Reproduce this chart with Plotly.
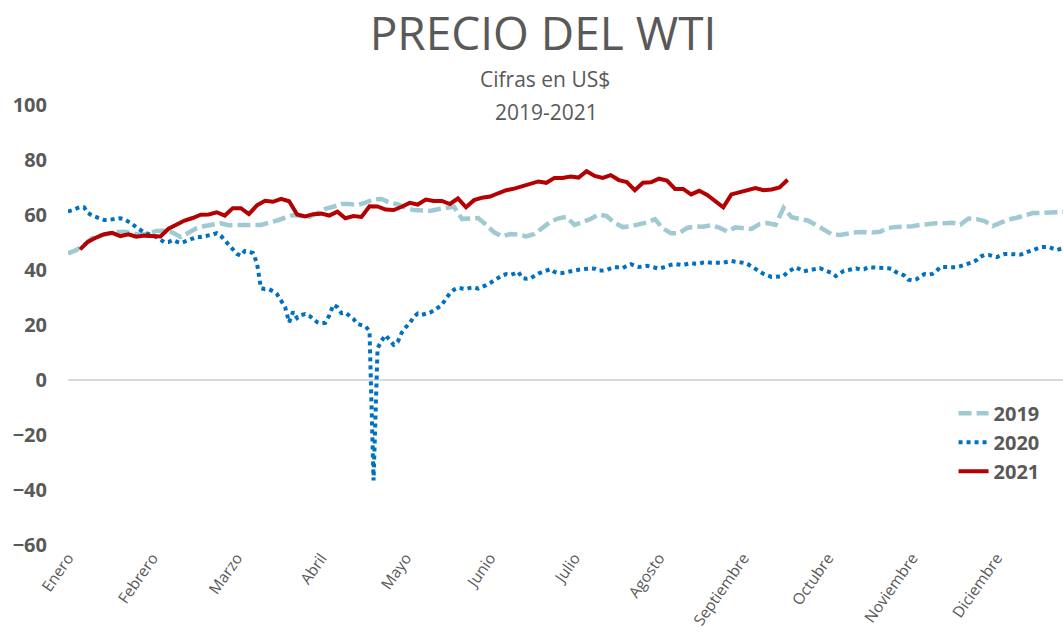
import plotly.graph_objects as go

months = ["Enero", "Febrero", "Marzo", "Abril", "Mayo", "Junio", "Julio",
          "Agosto", "Septiembre", "Octubre", "Noviembre", "Diciembre"]

# 2019: one value every 2 trading days
wti_2019 = [46.0, 47.2, 49.2, 51.5, 52.5, 53.2, 53.8, 53.9, 53.3, 52.8,
            53.2, 54.2, 54.3, 53.6, 52.0, 53.5, 55.2, 56.0, 56.6, 57.0,
            56.3, 56.2, 56.4, 56.4, 56.4, 57.0, 58.0, 59.0, 60.0, 59.6,
            59.3, 60.6, 62.2, 63.0, 64.0, 64.0, 63.6, 64.5, 65.7, 65.8,
            64.5, 63.9, 62.6, 61.8, 61.6, 61.5, 62.1, 62.6, 63.0, 58.6,
            58.7, 58.9, 56.5, 53.7, 52.2, 53.1, 52.9, 52.2, 53.1, 55.5,
            57.5, 58.8, 59.3, 56.4, 57.5, 58.6, 60.2, 59.6, 57.1, 55.6,
            55.9, 56.4, 57.3, 58.5, 55.1, 53.4, 53.4, 55.3, 55.8, 55.7,
            56.3, 55.4, 54.0, 55.5, 55.2, 54.9, 56.7, 57.1, 56.4, 62.6,
            59.2, 58.5, 58.0, 56.4, 54.7, 53.0, 52.7, 53.3, 53.7, 53.8,
            53.6, 53.9, 55.3, 55.6, 55.6, 55.9, 56.4, 56.8, 57.0, 57.0,
            57.2, 56.5, 58.7, 58.5, 57.8, 56.0, 57.4, 58.4, 59.0, 59.8,
            60.7, 60.7, 60.8, 61.0, 61.2]

# 2020: one value per trading day
wti_2020 = [61.2, 61.8, 62.4, 62.9, 62.8, 60.7, 59.8, 59.2, 58.6, 58.2,
            58.2, 58.3, 58.7, 58.8, 58.5, 57.7, 56.7, 55.5, 54.5, 53.6,
            53.1, 52.7, 51.9, 51.1, 50.1, 50.2, 50.9, 50.3, 49.8, 50.3,
            50.8, 51.6, 52.0, 52.0, 52.2, 52.5, 52.9, 53.4, 52.5, 50.8,
            49.3, 47.8, 45.9, 45.2, 46.9, 46.6, 46.2, 42.5, 33.4, 33.0,
            33.0, 32.3, 31.2, 28.9, 26.5, 21.0, 24.8, 22.5, 23.6, 24.0,
            23.4, 22.2, 21.0, 20.6, 20.8, 23.5, 27.3, 26.5, 24.3, 24.5,
            23.5, 22.2, 20.4, 20.1, 19.5, 17.8, -36.5, 11.5, 14.3, 16.3,
            14.8, 12.8, 13.8, 17.2, 19.2, 20.6, 23.0, 24.2, 23.7, 24.0,
            24.5, 25.3, 26.2, 27.3, 29.6, 31.5, 32.8, 33.5, 33.3, 33.1,
            33.5, 33.7, 33.2, 33.7, 34.5, 35.3, 36.2, 37.2, 38.0, 38.5,
            38.2, 38.7, 39.3, 37.1, 36.8, 37.0, 38.0, 38.7, 39.3, 39.9,
            40.3, 39.3, 38.9, 38.9, 39.3, 39.6, 39.8, 40.1, 40.3, 40.5,
            40.6, 40.5, 39.8, 39.8, 40.0, 40.6, 41.1, 40.9, 40.7, 41.5,
            42.1, 41.5, 41.1, 41.3, 41.5, 41.2, 40.9, 40.5, 40.9, 41.5,
            41.9, 42.2, 42.0, 41.8, 42.2, 42.5, 42.3, 42.3, 42.7, 42.9,
            42.6, 42.5, 42.5, 42.6, 43.0, 43.3, 43.0, 42.9, 42.6, 42.2,
            41.3, 40.2, 39.1, 38.6, 38.0, 37.5, 37.5, 37.6, 37.8, 39.2,
            40.3, 41.0, 40.3, 39.5, 39.8, 40.1, 40.4, 40.7, 40.0, 39.4,
            38.9, 37.8, 38.8, 39.7, 40.0, 40.4, 40.6, 40.2, 40.3, 41.0,
            41.0, 40.8, 40.7, 40.7, 40.6, 40.4, 39.2, 38.4, 38.0, 36.5,
            36.2, 36.6, 37.6, 38.5, 38.3, 38.6, 39.6, 41.1, 41.1, 41.1,
            40.8, 41.0, 41.4, 41.8, 42.1, 42.8, 43.6, 44.9, 45.5, 45.5,
            45.1, 44.7, 45.3, 45.8, 45.8, 45.8, 45.6, 45.6, 46.2, 46.7,
            47.2, 47.8, 48.3, 48.4, 48.4, 47.8, 47.3, 47.7, 48.0]

# 2021: one value every 2 trading days, starting on day 3
wti_2021 = [47.5, 50.3, 51.8, 53.0, 53.5, 52.3, 53.0, 52.1, 52.5, 52.5,
            52.2, 55.0, 56.4, 58.0, 58.9, 60.1, 60.2, 61.0, 59.8, 62.5,
            62.5, 60.3, 63.5, 65.2, 64.8, 65.9, 65.0, 60.2, 59.5, 60.3,
            60.5, 59.8, 61.2, 58.8, 59.6, 59.3, 63.2, 63.1, 62.0, 61.8,
            63.0, 64.4, 63.8, 65.6, 65.1, 65.1, 64.0, 66.0, 62.8, 65.4,
            66.3, 66.7, 67.9, 69.0, 69.6, 70.4, 71.3, 72.2, 71.7, 73.5,
            73.5, 74.0, 73.6, 75.9, 74.2, 73.5, 74.5, 72.7, 72.0, 69.0,
            71.7, 71.9, 73.2, 72.5, 69.5, 69.5, 67.5, 68.8, 67.3, 65.2,
            62.8, 67.5, 68.2, 68.8, 69.8, 69.0, 69.3, 70.0, 72.8]

x2019 = [2 * i for i in range(len(wti_2019))]
x2020 = list(range(len(wti_2020)))
x2021 = [3 + 2 * i for i in range(len(wti_2021))]
month_ticks = [21 * i for i in range(len(months))]

grey = "#595959"
fig = go.Figure()
fig.add_trace(go.Scatter(x=x2019, y=wti_2019, mode="lines", name="2019",
                         line=dict(color="#A0CAD2", width=4.5, dash="13px,5px")))
fig.add_trace(go.Scatter(x=x2020, y=wti_2020, mode="lines", name="2020",
                         line=dict(color="#0070C0", width=4, dash="dot")))
fig.add_trace(go.Scatter(x=x2021, y=wti_2021, mode="lines", name="2021",
                         line=dict(color="#B40000", width=4)))

fig.update_layout(
    width=1063, height=639,
    margin=dict(l=68, r=0, t=105, b=94),
    paper_bgcolor="white", plot_bgcolor="white",
    font=dict(family="Open Sans", color=grey),
    title=dict(text="PRECIO DEL WTI", x=543 / 1063, xref="container", xanchor="center",
               y=1 - 34 / 639, yref="container", yanchor="middle",
               font=dict(family="Open Sans", size=46, color=grey)),
    showlegend=True,
    legend=dict(x=0.89, xanchor="left", y=0.344, yanchor="top",
                font=dict(family="Open Sans", size=20, color=grey, weight="bold"),
                bgcolor="rgba(0,0,0,0)", tracegroupgap=0),
    annotations=[
        dict(text="Cifras en US$", x=0.479, y=(545 - 79) / 440, xref="paper", yref="paper",
             yanchor="middle", showarrow=False,
             font=dict(family="Open Sans", size=21, color=grey)),
        dict(text="2019-2021", x=0.481, y=(545 - 112) / 440, xref="paper", yref="paper",
             yanchor="middle", showarrow=False,
             font=dict(family="Open Sans", size=21, color=grey)),
    ],
)
fig.update_xaxes(range=[0, 247.5], tickmode="array", tickvals=month_ticks, ticktext=months,
                 tickangle=-55, showgrid=False, zeroline=False, showline=False,
                 ticks="", automargin=False,
                 tickfont=dict(family="Open Sans", size=15.5, color=grey))
fig.update_yaxes(range=[-60, 100], dtick=20, tick0=0, showgrid=False,
                 zeroline=True, zerolinecolor="#D9D9D9", zerolinewidth=2,
                 showline=False, ticks="", automargin=False, ticklabelstandoff=20,
                 tickfont=dict(family="Open Sans", size=20, color=grey, weight="bold"))

fig.write_html("out.html", config={"displayModeBar": False},
               post_script="document.body.style.margin='0px';")
